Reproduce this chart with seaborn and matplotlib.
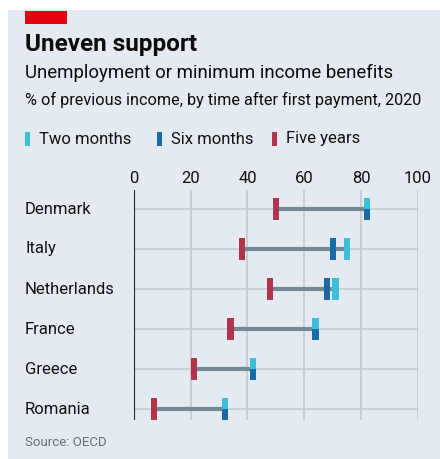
import numpy as np
import pandas as pd
import seaborn as sns
import matplotlib.pyplot as plt
from matplotlib.path import Path
from matplotlib.patches import Rectangle
from matplotlib.transforms import blended_transform_factory

countries = ["Denmark", "Italy", "Netherlands", "France", "Greece", "Romania"]
two_months = [82, 75, 71, 64, 42, 32]
six_months = [82, 70, 68, 64, 42, 32]
five_years = [50, 38, 48, 34, 21, 7]
ticks = [0, 20, 40, 60, 80, 100]

c_two = "#3cc0da"
c_six = "#1a6aa6"
c_five = "#b0344c"
c_range = "#758b94"
bg = "#e3eaf1"

df = pd.DataFrame({"country": countries, "two": two_months,
                   "six": six_months, "five": five_years})
df["pos"] = np.arange(len(df))
df["hi"] = df[["two", "six"]].max(axis=1)
same = df["two"] == df["six"]

sns.set_theme(style="white")
plt.rcParams["font.family"] = ["Roboto", "DejaVu Sans"]

fig = plt.figure(figsize=(4.4, 4.59), dpi=100)
fig.patch.set_facecolor("white")
fig.patches.append(Rectangle((8 / 440, 0), 1, 1 - 10 / 459, transform=fig.transFigure,
                             facecolor=bg, edgecolor="none", zorder=-10))
fig.patches.append(Rectangle((25 / 440, 1 - 24 / 459), 42 / 440, 13 / 459,
                             transform=fig.transFigure, facecolor="#e3000f",
                             edgecolor="none"))

ax = fig.add_axes([134 / 440, 1 - 420 / 459, 283.7 / 440, 230 / 459])
ax.set_facecolor(bg)

# marker shapes: full bar, top half, bottom half
w = 0.28
full = Path([(-w, -1), (w, -1), (w, 1), (-w, 1), (-w, -1)])
top = Path([(-w, 0), (w, 0), (w, 1), (-w, 1), (-w, 0)])
bot = Path([(-w, -1), (w, -1), (w, 0), (-w, 0), (-w, -1)])
msize = 250

for v in ticks:
    ax.axvline(v, color="#bfc8cf", lw=1.1, zorder=1)
for p in df["pos"]:
    ax.plot([0, 100], [p, p], color="#c3ccd3", lw=1.2, zorder=1)
ax.axvline(0, color="#222222", lw=1.5, zorder=2)

ax.hlines(df["pos"], df["five"], df["hi"], color=c_range, lw=3, zorder=3)

sns.scatterplot(data=df, x="five", y="pos", marker=full, s=msize, color=c_five,
                edgecolor="none", ax=ax, zorder=4)
sns.scatterplot(data=df[~same], x="six", y="pos", marker=full, s=msize, color=c_six,
                edgecolor="none", ax=ax, zorder=4)
sns.scatterplot(data=df[~same], x="two", y="pos", marker=full, s=msize, color=c_two,
                edgecolor="none", ax=ax, zorder=4)
sns.scatterplot(data=df[same], x="two", y="pos", marker=top, s=msize, color=c_two,
                edgecolor="none", ax=ax, zorder=4)
sns.scatterplot(data=df[same], x="six", y="pos", marker=bot, s=msize, color=c_six,
                edgecolor="none", ax=ax, zorder=4)

ax.set_xlim(0, 100)
ax.set_ylim(5.275, -0.475)
ax.set_xticks(ticks)
ax.set_xticklabels([str(t) for t in ticks], fontsize=12)
ax.xaxis.tick_top()
ax.tick_params(axis="x", length=0, pad=3, colors="#111111")
ax.set_yticks(df["pos"])
ax.set_yticklabels([])
ax.tick_params(axis="y", length=0)
ax.set_xlabel("")
ax.set_ylabel("")
for s in ax.spines.values():
    s.set_visible(False)

# country names sit at the left edge of the panel
lab_tr = blended_transform_factory(fig.transFigure, ax.transData)
for p, name in zip(df["pos"], countries):
    ax.text(25 / 440, p, name, transform=lab_tr, fontsize=12, va="center",
            color="#111111")

def px(x, y):
    return x / 440, 1 - y / 459

fig.text(*px(25, 45), "Uneven support", fontsize=17.5, fontweight="bold",
         va="center", color="#0c0c0c")
fig.text(*px(25, 73), "Unemployment or minimum income benefits", fontsize=13.4,
         va="center", color="#0c0c0c")
fig.text(*px(25, 100), "% of previous income, by time after first payment, 2020",
         fontsize=11.7, va="center", color="#0c0c0c")

legend = [("Two months", c_two, 25), ("Six months", c_six, 157), ("Five years", c_five, 272)]
for label, col, x0 in legend:
    fig.patches.append(Rectangle(px(x0, 146), 5 / 440, 14 / 459,
                                 transform=fig.transFigure, facecolor=col,
                                 edgecolor="none"))
    fig.text(*px(x0 + 14, 139), label, fontsize=12, va="center", color="#111111")

fig.text(*px(25, 442), "Source: OECD", fontsize=9.5, va="center", color="#6b6f73")

fig.savefig("out.png", dpi=100, facecolor=fig.get_facecolor())
